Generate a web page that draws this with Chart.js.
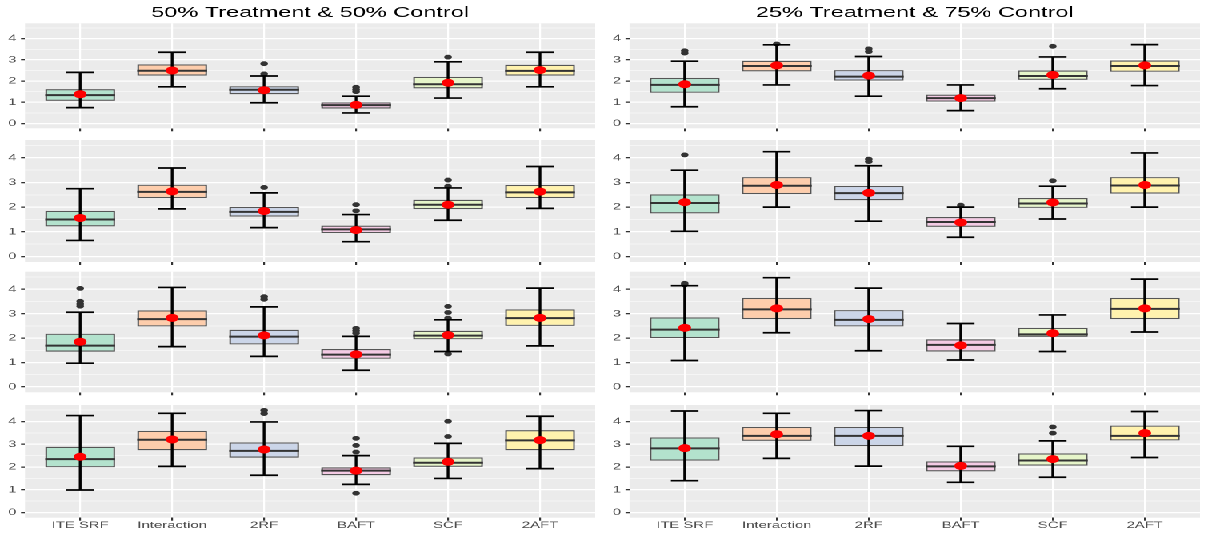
<!DOCTYPE html>
<html>
<head>
<meta charset="utf-8">
<script src="https://cdn.jsdelivr.net/npm/chart.js@4"></script>
<style>
  html, body { margin: 0; padding: 0; background: #fff; overflow: hidden; }
  #wrap { position: absolute; left: 0; top: 0; width: 754px; height: 533px; transform: scaleX(1.6); transform-origin: 0 0; }
  .panel { position: absolute; }
</style>
</head>
<body>
<div id="wrap"></div>
<script>
const categories = ['ITE SRF', 'Interaction', '2RF', 'BAFT', 'SCF', '2AFT'];
const panelTitles = ['50% Treatment & 50% Control', '25% Treatment & 75% Control'];
const boxFills = ['#B3E2CD', '#FDCDAC', '#CBD5E8', '#F4CAE4', '#E6F5C9', '#FFF2AE'];

// panels: left column rows 1-4, then right column rows 1-4
const whiskerLow = [
  [0.75, 1.73, 0.98, 0.50, 1.20, 1.73],
  [0.65, 1.93, 1.17, 0.60, 1.47, 1.95],
  [0.97, 1.65, 1.25, 0.68, 1.45, 1.68],
  [0.99, 2.03, 1.64, 1.24, 1.50, 1.93],
  [0.79, 1.82, 1.29, 0.61, 1.64, 1.79],
  [1.02, 2.00, 1.43, 0.78, 1.52, 2.00],
  [1.08, 2.22, 1.48, 1.10, 1.45, 2.25],
  [1.40, 2.38, 2.04, 1.33, 1.55, 2.42]
];
const q1 = [
  [1.07, 2.26, 1.38, 0.71, 1.66, 2.26],
  [1.22, 2.37, 1.62, 0.95, 1.92, 2.37],
  [1.44, 2.48, 1.74, 1.15, 1.95, 2.50],
  [1.99, 2.74, 2.41, 1.64, 2.01, 2.74],
  [1.45, 2.46, 2.02, 1.03, 2.06, 2.44],
  [1.75, 2.53, 2.28, 1.20, 1.97, 2.55],
  [2.00, 2.78, 2.48, 1.45, 2.05, 2.78],
  [2.28, 3.15, 2.92, 1.81, 2.06, 3.17]
];
const medians = [
  [1.34, 2.49, 1.59, 0.87, 1.85, 2.48],
  [1.50, 2.62, 1.81, 1.10, 2.10, 2.60],
  [1.69, 2.78, 2.06, 1.32, 2.10, 2.82],
  [2.35, 3.20, 2.71, 1.84, 2.19, 3.17],
  [1.82, 2.71, 2.21, 1.20, 2.24, 2.71],
  [2.17, 2.87, 2.57, 1.40, 2.15, 2.88],
  [2.35, 3.18, 2.75, 1.72, 2.15, 3.20],
  [2.82, 3.37, 3.37, 2.03, 2.29, 3.37]
];
const q3 = [
  [1.62, 2.79, 1.76, 1.00, 2.20, 2.77],
  [1.85, 2.91, 2.01, 1.25, 2.30, 2.90],
  [2.18, 3.14, 2.34, 1.55, 2.30, 3.18],
  [2.89, 3.59, 3.08, 1.99, 2.42, 3.62],
  [2.15, 2.96, 2.52, 1.36, 2.50, 2.97],
  [2.52, 3.22, 2.86, 1.60, 2.37, 3.22],
  [2.85, 3.65, 3.15, 1.95, 2.42, 3.65],
  [3.30, 3.76, 3.76, 2.25, 2.60, 3.82]
];
const whiskerHigh = [
  [2.41, 3.36, 2.24, 1.29, 2.91, 3.36],
  [2.75, 3.59, 2.58, 1.70, 2.78, 3.65],
  [3.06, 4.08, 3.28, 2.07, 2.75, 4.05],
  [4.26, 4.36, 3.98, 2.50, 3.04, 4.23],
  [2.94, 3.71, 3.16, 1.82, 3.14, 3.72],
  [3.50, 4.25, 3.68, 2.00, 2.85, 4.20],
  [4.15, 4.48, 4.05, 2.60, 2.95, 4.42],
  [4.46, 4.36, 4.48, 2.91, 3.15, 4.44]
];
const means = [
  [1.38, 2.50, 1.57, 0.88, 1.92, 2.52],
  [1.56, 2.64, 1.84, 1.07, 2.10, 2.63],
  [1.85, 2.83, 2.11, 1.33, 2.12, 2.83],
  [2.45, 3.21, 2.77, 1.84, 2.23, 3.18],
  [1.85, 2.74, 2.26, 1.20, 2.29, 2.74],
  [2.20, 2.90, 2.58, 1.38, 2.19, 2.90],
  [2.42, 3.22, 2.78, 1.70, 2.20, 3.22],
  [2.83, 3.44, 3.37, 2.05, 2.35, 3.49]
];
const outliers = [
  [[], [], [2.34, 2.82], [1.50, 1.60, 1.71], [3.13], []],
  [[], [], [2.80], [1.85, 2.10], [2.85, 3.10], []],
  [[3.31, 3.40, 3.51, 4.04], [], [3.59, 3.70], [2.20, 2.30, 2.40], [1.35, 2.82, 3.05, 3.30], []],
  [[], [], [4.35, 4.49], [0.85, 2.66, 2.95, 3.26], [3.34, 4.01], []],
  [[3.32, 3.43], [3.75], [3.39, 3.52], [], [3.64], []],
  [[4.12], [], [3.85, 3.95], [2.08], [3.07], []],
  [[4.18, 4.25], [], [], [], [], []],
  [[], [], [], [], [3.49, 3.76], []]
];

// layout (page pixels); the original picture is stretched sideways, so draw narrow and scale
const S = 1.6;
const colX = [[25, 597], [629.5, 1202.5]];
const rowY = [[23.3, 128.3], [140, 262], [271.7, 392.3], [405, 517.7]];
const Y_AXIS = 15.6;
const HALF_BOX = 0.38;
const HALF_CAP = 0.15;
const FONT = '"Liberation Sans", Arial, Helvetica, sans-serif';

const panelBg = {
  id: 'panelBg',
  beforeDraw(chart) {
    const a = chart.chartArea;
    chart.ctx.save();
    chart.ctx.fillStyle = '#EBEBEB';
    chart.ctx.fillRect(a.left, a.top, a.right - a.left, a.bottom - a.top);
    chart.ctx.restore();
  }
};

function makePanel(col, row) {
  const p = col * 4 + row;
  const bottomRow = row === 3;
  const pl = colX[col][0] / S, pr = colX[col][1] / S;
  const left = Math.floor(pl - Y_AXIS - 1);
  const right = Math.ceil(pr + 2);
  const pt = rowY[row][0], pb = rowY[row][1];
  const xh = bottomRow ? 16 : 10;
  const top = row === 0 ? 0 : Math.floor(pt - 12);
  const bottom = Math.ceil(pb + xh + 1);

  const div = document.createElement('div');
  div.className = 'panel';
  div.style.left = left + 'px';
  div.style.top = top + 'px';
  const canvas = document.createElement('canvas');
  canvas.width = right - left;
  canvas.height = bottom - top;
  div.appendChild(canvas);
  document.getElementById('wrap').appendChild(div);

  const boxData = [], medData = [], errData = [], meanData = [], outData = [];
  categories.forEach((c, i) => {
    const x = i + 1;
    boxData.push({x: x, y: [q1[p][i], q3[p][i]]});
    medData.push({x: x - HALF_BOX, y: medians[p][i]}, {x: x + HALF_BOX, y: medians[p][i]}, {x: x, y: null});
    errData.push(
      {x: x - HALF_CAP, y: whiskerLow[p][i]}, {x: x + HALF_CAP, y: whiskerLow[p][i]}, {x: x, y: null},
      {x: x, y: whiskerLow[p][i]}, {x: x, y: whiskerHigh[p][i]}, {x: x, y: null},
      {x: x - HALF_CAP, y: whiskerHigh[p][i]}, {x: x + HALF_CAP, y: whiskerHigh[p][i]}, {x: x, y: null}
    );
    meanData.push({x: x, y: means[p][i]});
    outliers[p][i].forEach(v => outData.push({x: x, y: v}));
  });

  const isMajor = ctx => ctx.tick && Number.isInteger(ctx.tick.value);

  new Chart(canvas, {
    type: 'bar',
    data: {
      datasets: [
        {type: 'scatter', data: meanData, pointRadius: 4, pointBackgroundColor: '#FF0000', pointBorderWidth: 0, order: 0},
        {type: 'line', data: errData, borderColor: '#000', borderWidth: 1.7, pointRadius: 0, spanGaps: false, order: 1},
        {type: 'line', data: medData, borderColor: '#333', borderWidth: 2, pointRadius: 0, spanGaps: false, order: 2},
        {type: 'scatter', data: outData, pointRadius: 2.4, pointBackgroundColor: '#333', pointBorderWidth: 0, order: 3},
        {type: 'bar', data: boxData, backgroundColor: boxFills, borderColor: '#555', borderWidth: 1.2,
         borderSkipped: false, barPercentage: HALF_BOX * 2, categoryPercentage: 1, order: 4}
      ]
    },
    options: {
      responsive: false,
      devicePixelRatio: 2,
      animation: false,
      events: [],
      layout: {
        padding: {
          left: pl - Y_AXIS - left,
          right: right - pr,
          top: row === 0 ? 0 : pt - top,
          bottom: bottom - pb - xh
        }
      },
      plugins: {
        legend: {display: false},
        tooltip: {enabled: false},
        title: {
          display: row === 0,
          text: panelTitles[col],
          fullSize: false,
          color: '#000',
          font: {family: FONT, size: 14.7, weight: 'normal', lineHeight: 1.2},
          padding: {top: 4.2, bottom: pt - 17.64 - 4.2}
        }
      },
      scales: {
        x: {
          type: 'linear',
          min: 0.4,
          max: 6.6,
          offset: false,
          afterFit: s => { s.height = xh; },
          border: {display: false},
          grid: {offset: false, color: '#FFFFFF', lineWidth: 1.1, tickLength: 3, tickColor: '#333'},
          ticks: {
            stepSize: 1,
            includeBounds: false,
            autoSkip: false,
            maxRotation: 0,
            padding: 0,
            color: '#4D4D4D',
            font: {family: FONT, size: 9.3, lineHeight: 1},
            callback: v => bottomRow ? categories[v - 1] : ''
          }
        },
        y: {
          min: -0.225,
          max: 4.725,
          afterFit: s => { s.width = Y_AXIS; },
          border: {display: false},
          grid: {
            color: '#FFFFFF',
            lineWidth: ctx => isMajor(ctx) ? 1.3 : 0.6,
            tickLength: 2.5,
            tickColor: ctx => isMajor(ctx) ? '#333' : 'rgba(0,0,0,0)'
          },
          ticks: {
            stepSize: 0.5,
            includeBounds: false,
            autoSkip: false,
            padding: 2.8,
            color: '#4D4D4D',
            font: {family: FONT, size: 9.3},
            callback: v => Number.isInteger(v) ? String(v) : ''
          }
        }
      }
    },
    plugins: [panelBg]
  });
}

for (let col = 0; col < 2; col++) {
  for (let row = 0; row < 4; row++) makePanel(col, row);
}
</script>
</body>
</html>
